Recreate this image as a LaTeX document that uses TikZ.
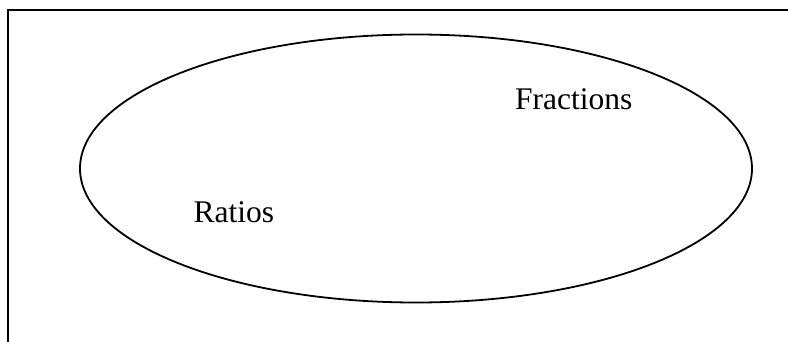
\documentclass[tikz,border=0pt]{standalone}
\usepackage{fontspec}
\setmainfont{Liberation Serif}
\begin{document}
\begin{tikzpicture}[x=1pt,y=-1pt,
  frameline/.style={line width=2.2pt,line cap=rect},
  setline/.style={line width=1.8pt},
  setlabel/.style={font=\fontsize{31.5}{38}\selectfont,anchor=base west,inner sep=0pt}]
  \useasboundingbox (0,0) rectangle (788,342);
  % open frame: top edge and left edge
  \draw[frameline] (8,342) -- (8,10) -- (790,10);
  % the ellipse
  \draw[setline] (416,168.5) ellipse [x radius=336, y radius=134];
  % labels
  \node[setlabel] (fractions) at (515,109.5) {Fractions};
  \node[setlabel] (ratios) at (193.5,222.5) {Ratios};
\end{tikzpicture}
\end{document}
